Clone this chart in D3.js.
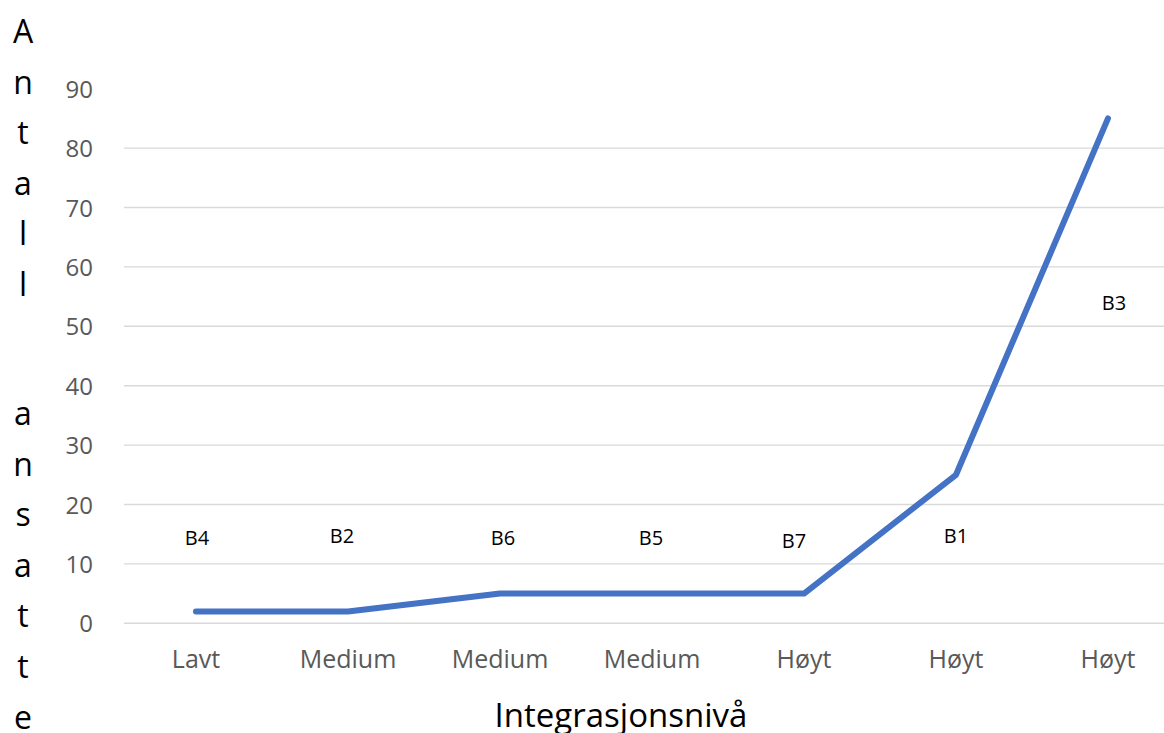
<!DOCTYPE html>
<html>
<head>
<meta charset="utf-8">
<script src="https://cdn.jsdelivr.net/npm/d3@7/dist/d3.min.js"></script>
<style>
  html, body { margin: 0; padding: 0; background: #ffffff; }
  svg { display: block; }
  text { font-family: "Open Sans", "Noto Sans", sans-serif; }
</style>
</head>
<body>
<svg id="chart" width="1164" height="733"></svg>
<script>
// Integration level per company, employee counts
const categories = ["Lavt", "Medium", "Medium", "Medium", "Høyt", "Høyt", "Høyt"];
const companies  = ["B4", "B2", "B6", "B5", "B7", "B1", "B3"];
const employees  = [2, 2, 5, 5, 5, 25, 85];
const yTicks     = [0, 10, 20, 30, 40, 50, 60, 70, 80, 90];
const gridTicks  = [0, 10, 20, 30, 40, 50, 60, 70, 80];
const yTitle     = "Antall ansatte";
const xTitle     = "Integrasjonsnivå";

const W = 1164, H = 733;
const svg = d3.select("#chart");

const x = d3.scaleBand()
  .domain(d3.range(categories.length))
  .range([120, 1184])
  .padding(0);
const cx = i => x(i) + x.bandwidth() / 2;

const y = d3.scaleLinear().domain([0, 90]).range([623.3, 88.7]);

// horizontal gridlines
svg.append("g")
  .selectAll("line")
  .data(gridTicks)
  .join("line")
  .attr("x1", 124).attr("x2", W)
  .attr("y1", d => y(d)).attr("y2", d => y(d))
  .attr("stroke", "#d9d9d9")
  .attr("stroke-width", 1.4);

// y axis (labels only)
const yAxis = d3.axisLeft(y).tickValues(yTicks).tickSize(0).tickPadding(0);
const gy = svg.append("g").attr("transform", "translate(93,0)").call(yAxis);
gy.select(".domain").remove();
gy.selectAll("text")
  .attr("font-family", "'Open Sans', sans-serif")
  .attr("font-size", 24)
  .attr("fill", "#595959")
  .attr("dy", "0.36em");

// x axis (category labels only)
const xAxis = d3.axisBottom(x).tickFormat(i => categories[i]).tickSize(0).tickPadding(0);
const gx = svg.append("g").attr("transform", "translate(0,668)").call(xAxis);
gx.select(".domain").remove();
gx.selectAll("text")
  .attr("font-family", "'Open Sans', sans-serif")
  .attr("font-size", 25)
  .attr("fill", "#595959")
  .attr("dy", 0);

// series line
const line = d3.line()
  .x((d, i) => cx(i))
  .y(d => y(d));

svg.append("path")
  .datum(employees)
  .attr("d", line)
  .attr("fill", "none")
  .attr("stroke", "#4472c4")
  .attr("stroke-width", 6)
  .attr("stroke-linecap", "round")
  .attr("stroke-linejoin", "round");

// company name labels, hand-placed near each point
const labelLayout = [
  { dx: 1,   lvl: 13.1 },
  { dx: -6,  lvl: 13.5 },
  { dx: 3,   lvl: 13.1 },
  { dx: -1,  lvl: 13.1 },
  { dx: -10, lvl: 12.6 },
  { dx: 0,   lvl: 13.5 },
  { dx: 6,   lvl: 52.7 }
];
svg.append("g")
  .selectAll("text")
  .data(companies)
  .join("text")
  .attr("x", (d, i) => cx(i) + labelLayout[i].dx)
  .attr("y", (d, i) => y(labelLayout[i].lvl))
  .attr("text-anchor", "middle")
  .attr("font-size", 20)
  .attr("fill", "#000000")
  .text(d => d);

// vertical, letter-stacked y title
const words = yTitle.split(" ");
const letterRows = [];
let row = 0;
words.forEach((w, wi) => {
  if (wi > 0) row += 1.55;
  Array.from(w).forEach(ch => { letterRows.push({ ch, row }); row += 1; });
});
svg.append("g")
  .selectAll("text")
  .data(letterRows)
  .join("text")
  .attr("x", 23)
  .attr("y", d => 43 + d.row * 50.6)
  .attr("text-anchor", "middle")
  .attr("font-size", 32)
  .attr("fill", "#000000")
  .text(d => d.ch);

// x title
svg.append("text")
  .attr("x", 621)
  .attr("y", 727)
  .attr("text-anchor", "middle")
  .attr("font-size", 33)
  .attr("fill", "#000000")
  .text(xTitle);
</script>
</body>
</html>
